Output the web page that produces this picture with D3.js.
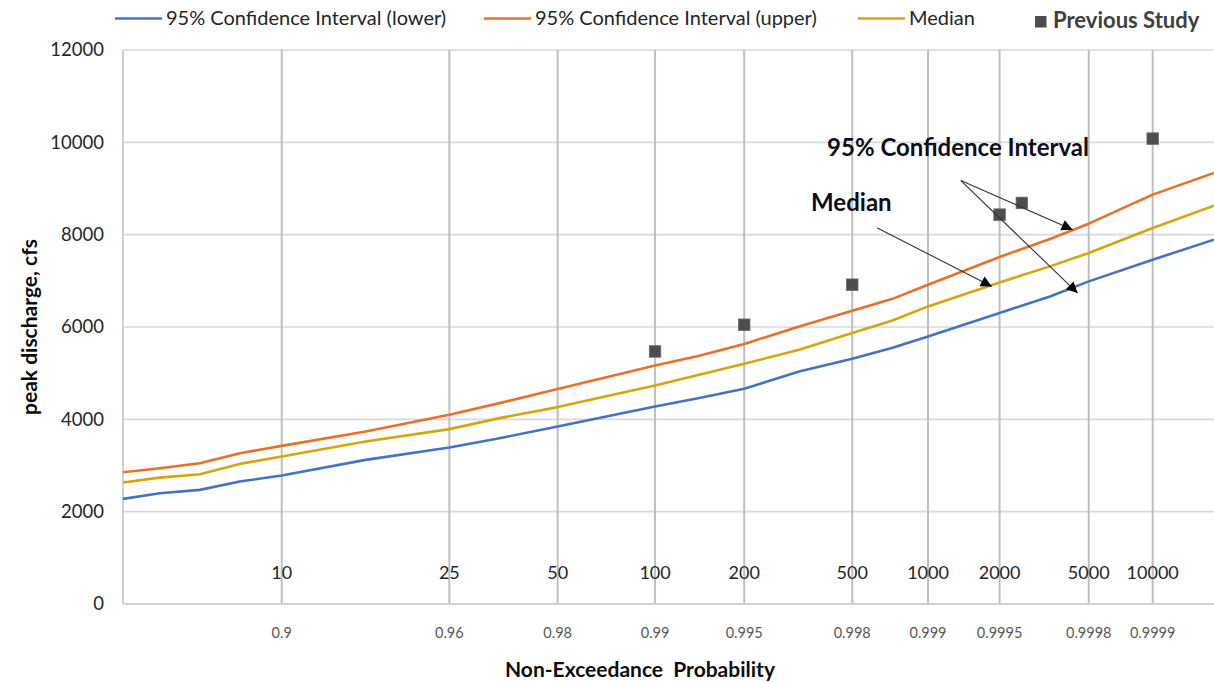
<!DOCTYPE html>
<html>
<head>
<meta charset="utf-8">
<script src="https://cdn.jsdelivr.net/npm/d3@7"></script>
<style>
  html, body { margin: 0; padding: 0; background: #fff; }
  svg { display: block; font-family: Lato, "Open Sans", sans-serif; }
</style>
</head>
<body>
<div id="chart"></div>
<script>
// non-exceedance probabilities
const probs = [0.7988, 0.8265, 0.8537, 0.8778, 0.9, 0.9353, 0.96, 0.9707, 0.98, 0.99, 0.99286,
  0.995, 0.99683, 0.998, 0.99861, 0.999, 0.9995, 0.9997, 0.9998, 0.9999, 0.99995]
const upper = [2855, 2942, 3050, 3267, 3425, 3735, 4098, 4351, 4655, 5166, 5377,
  5630, 6012, 6352, 6610, 6916, 7517, 7907, 8238, 8867, 9338]
const median = [2630, 2738, 2812, 3035, 3193, 3519, 3788, 4026, 4265, 4733, 4965,
  5203, 5507, 5869, 6140, 6446, 6966, 7313, 7603, 8145, 8629]
const lower = [2276, 2400, 2472, 2652, 2782, 3122, 3389, 3592, 3844, 4278, 4460,
  4661, 5037, 5312, 5550, 5795, 6302, 6662, 6988, 7458, 7892]

const prevProbs = [0.99, 0.995, 0.998, 0.9995, 0.9996, 0.9999]
const prevValues = [5470, 6049, 6916, 8434, 8687, 10081]

const returnPeriods = [10, 25, 50, 100, 200, 500, 1000, 2000, 5000, 10000]
const probLabels = ["0.9", "0.96", "0.98", "0.99", "0.995", "0.998", "0.999", "0.9995", "0.9998", "0.9999"]
const yTicks = [0, 2000, 4000, 6000, 8000, 10000, 12000]

const probDomain = [0.7988, 0.99995]
const valueDomain = [0, 12000]

// inverse normal cdf (Acklam)
function probit(p) {
  const a = [-39.69683028665376, 220.9460984245205, -275.9285104469687, 138.3577518672690, -30.66479806614716, 2.506628277459239]
  const b = [-54.47609879822406, 161.5858368580409, -155.6989798598866, 66.80131188771972, -13.28068155288572]
  const c = [-0.007784894002430293, -0.3223964580411365, -2.400758277161838, -2.549732539343734, 4.374664141464968, 2.938163982698783]
  const d = [0.007784695709041462, 0.3224671290700398, 2.445134137142996, 3.754408661907416]
  const plow = 0.02425
  let q, r
  if (p < plow) {
    q = Math.sqrt(-2 * Math.log(p))
    return (((((c[0]*q+c[1])*q+c[2])*q+c[3])*q+c[4])*q+c[5]) / ((((d[0]*q+d[1])*q+d[2])*q+d[3])*q+1)
  }
  if (p <= 1 - plow) {
    q = p - 0.5
    r = q * q
    return (((((a[0]*r+a[1])*r+a[2])*r+a[3])*r+a[4])*r+a[5])*q / (((((b[0]*r+b[1])*r+b[2])*r+b[3])*r+b[4])*r+1)
  }
  q = Math.sqrt(-2 * Math.log(1 - p))
  return -(((((c[0]*q+c[1])*q+c[2])*q+c[3])*q+c[4])*q+c[5]) / ((((d[0]*q+d[1])*q+d[2])*q+d[3])*q+1)
}

const width = 1214
const height = 682
const margin = { top: 50, right: 0, bottom: 78, left: 123 }
const plotW = width - margin.left - margin.right
const plotH = height - margin.top - margin.bottom

const svg = d3.select("#chart").append("svg")
  .attr("width", width)
  .attr("height", height)

const x = d3.scaleLinear()
  .domain(probDomain.map(probit))
  .range([margin.left, margin.left + plotW])
const y = d3.scaleLinear()
  .domain(valueDomain)
  .range([margin.top + plotH, margin.top])
const px = p => x(probit(p))

// horizontal grid
svg.append("g")
  .selectAll("line")
  .data(yTicks)
  .join("line")
    .attr("x1", margin.left)
    .attr("x2", margin.left + plotW)
    .attr("y1", d => y(d))
    .attr("y2", d => y(d))
    .attr("stroke", "#d9d9d9")
    .attr("stroke-width", 1.6)

// vertical grid at return periods
svg.append("g")
  .selectAll("line")
  .data(returnPeriods)
  .join("line")
    .attr("x1", d => px(1 - 1 / d))
    .attr("x2", d => px(1 - 1 / d))
    .attr("y1", y(12000))
    .attr("y2", y(0))
    .attr("stroke", "#bfbfbf")
    .attr("stroke-width", 2)

// plot frame left + bottom
svg.append("line")
  .attr("x1", margin.left).attr("x2", margin.left)
  .attr("y1", y(12000)).attr("y2", y(0))
  .attr("stroke", "#d0d0d0").attr("stroke-width", 2)
svg.append("line")
  .attr("x1", margin.left).attr("x2", margin.left + plotW)
  .attr("y1", y(0)).attr("y2", y(0))
  .attr("stroke", "#d0d0d0").attr("stroke-width", 2)

// y tick labels
svg.append("g")
  .selectAll("text")
  .data(yTicks)
  .join("text")
    .attr("x", 104)
    .attr("y", d => y(d))
    .attr("dy", "0.35em")
    .attr("text-anchor", "end")
    .attr("fill", "#262626")
    .style("font-size", "18.5px")
    .text(d => d)

// return period labels inside the plot
svg.append("g")
  .selectAll("text")
  .data(returnPeriods)
  .join("text")
    .attr("x", d => px(1 - 1 / d))
    .attr("y", y(0) - 31)
    .attr("dy", "0.35em")
    .attr("text-anchor", "middle")
    .attr("fill", "#262626")
    .style("font-size", "18px")
    .text(d => d)

// probability labels under the axis
svg.append("g")
  .selectAll("text")
  .data(returnPeriods)
  .join("text")
    .attr("x", d => px(1 - 1 / d))
    .attr("y", y(0) + 29)
    .attr("dy", "0.35em")
    .attr("text-anchor", "middle")
    .attr("fill", "#595959")
    .style("font-size", "14.5px")
    .text((d, i) => probLabels[i])

// series lines
const series = [
  { name: "95% Confidence Interval (lower)", values: lower, color: "#4472c4" },
  { name: "95% Confidence Interval (upper)", values: upper, color: "#e8702a" },
  { name: "Median", values: median, color: "#d6a40c" }
]

const lineGen = d3.line()
  .x((d, i) => px(probs[i]))
  .y(d => y(d))

svg.append("clipPath").attr("id", "plot-clip")
  .append("rect")
    .attr("x", margin.left).attr("y", margin.top)
    .attr("width", plotW).attr("height", plotH)

svg.append("g")
  .attr("clip-path", "url(#plot-clip)")
  .selectAll("path")
  .data(series)
  .join("path")
    .attr("d", d => lineGen(d.values))
    .attr("fill", "none")
    .attr("stroke", d => d.color)
    .attr("stroke-width", 2.6)
    .attr("stroke-linejoin", "round")

// previous study markers
const sq = 11.5
svg.append("g")
  .selectAll("rect")
  .data(prevValues)
  .join("rect")
    .attr("x", (d, i) => px(prevProbs[i]) - sq / 2)
    .attr("y", d => y(d) - sq / 2)
    .attr("width", sq)
    .attr("height", sq)
    .attr("fill", "#4d4d4d")
    .attr("stroke", "#6a6a6a")
    .attr("stroke-width", 0.8)

// annotations
svg.append("defs").append("marker")
  .attr("id", "arrow")
  .attr("viewBox", "0 0 10 10")
  .attr("refX", 10).attr("refY", 5)
  .attr("markerUnits", "userSpaceOnUse")
  .attr("markerWidth", 14).attr("markerHeight", 11)
  .attr("orient", "auto")
  .append("path")
    .attr("d", "M0,0 L10,5 L0,10 Z")
    .attr("fill", "#000")

const arrows = [
  { from: [0.999269, 9171], to: [0.999763, 8108] },
  { from: [0.999269, 9171], to: [0.999775, 6736] },
  { from: [0.998403, 8145], to: [0.99946, 6879] }
]
svg.append("g")
  .selectAll("line")
  .data(arrows)
  .join("line")
    .attr("x1", d => px(d.from[0]))
    .attr("y1", d => y(d.from[1]))
    .attr("x2", d => px(d.to[0]))
    .attr("y2", d => y(d.to[1]))
    .attr("stroke", "#333")
    .attr("stroke-width", 1.1)
    .attr("marker-end", "url(#arrow)")

const notes = [
  { text: "95% Confidence Interval", at: [0.997506, 9713] },
  { text: "Median", at: [0.997136, 8505] }
]
svg.append("g")
  .selectAll("text")
  .data(notes)
  .join("text")
    .attr("x", d => px(d.at[0]))
    .attr("y", d => y(d.at[1]))
    .attr("fill", "#0d0d1a")
    .style("font-size", "24px")
    .style("font-weight", "bold")
    .text(d => d.text)

// legend
const legendItems = [
  { x: 115, ...series[0] },
  { x: 484, ...series[1] },
  { x: 858, ...series[2] }
]
const legend = svg.append("g")
legend.selectAll("line")
  .data(legendItems)
  .join("line")
    .attr("x1", d => d.x).attr("x2", d => d.x + 47)
    .attr("y1", 18.5).attr("y2", 18.5)
    .attr("stroke", d => d.color)
    .attr("stroke-width", 2.6)
legend.selectAll("text")
  .data(legendItems)
  .join("text")
    .attr("x", d => d.x + 51)
    .attr("y", 25)
    .attr("fill", "#262626")
    .style("font-size", "20px")
    .text(d => d.name)
legend.append("rect")
  .attr("x", 1035).attr("y", 16)
  .attr("width", 11.5).attr("height", 11.5)
  .attr("fill", "#4d4d4d")
legend.append("text")
  .attr("x", 1053).attr("y", 28)
  .attr("fill", "#404040")
  .style("font-size", "22px")
  .style("font-weight", "bold")
  .text("Previous Study")

// axis titles
svg.append("text")
  .attr("x", 640).attr("y", 677)
  .attr("text-anchor", "middle")
  .attr("fill", "#0d0d0d")
  .style("font-size", "21px")
  .style("font-weight", "bold")
  .style("white-space", "pre")
  .text("Non-Exceedance  Probability")

svg.append("text")
  .attr("transform", "translate(37,327) rotate(-90)")
  .attr("text-anchor", "middle")
  .attr("fill", "#0d0d0d")
  .style("font-size", "21px")
  .style("font-weight", "bold")
  .text("peak discharge, cfs")
</script>
</body>
</html>
